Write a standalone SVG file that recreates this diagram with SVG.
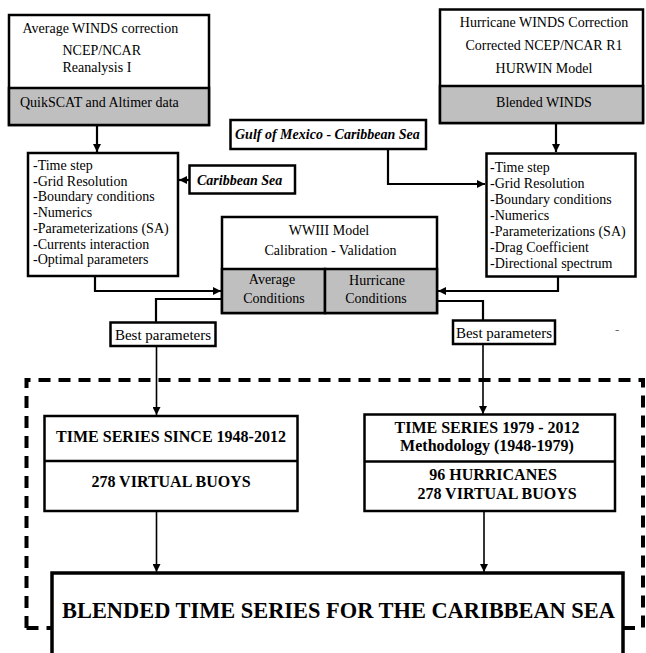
<svg xmlns="http://www.w3.org/2000/svg" width="646" height="653" viewBox="0 0 646 653">
<style>
.t{font-size:14px}
.p{font-size:14px}
.bi{font-size:14px;font-weight:bold;font-style:italic}
.b{font-size:16px;font-weight:bold}
.box{fill:#fff;stroke:#000;stroke-width:2.5}
.gray{fill:#bfbfbf;stroke:#000;stroke-width:2.5}
.c{fill:none;stroke:#000;stroke-width:2.2}
.cb{fill:none;stroke:#000;stroke-width:1.6}
</style>
<defs>
<marker id="ah" markerUnits="userSpaceOnUse" markerWidth="9" markerHeight="8" refX="8" refY="4" orient="auto">
<path d="M0,0 L8,4 L0,8 z" fill="#000"/>
</marker>
</defs>
<rect x="0" y="0" width="646" height="653" fill="#fff"/>
<g font-family="Liberation Serif, Times New Roman, DejaVu Serif, serif" fill="#000">

<g id="dashed-region">
<path d="M26.5,628 L26.5,380 L643,380 L643,628" fill="none" stroke="#000" stroke-width="4" stroke-dasharray="12 8"/>
<path d="M26.5,628 L52,628 M623,628 L643,628" fill="none" stroke="#000" stroke-width="4" stroke-dasharray="12 8"/>
</g>

<g id="connectors">
<path class="c" d="M97,125 L97,152" marker-end="url(#ah)"/>
<path class="c" d="M556,123 L556,152" marker-end="url(#ah)"/>
<path class="c" d="M189,180 L179,180" marker-end="url(#ah)"/>
<path class="c" d="M388,149 L388,184 L485,184" marker-end="url(#ah)"/>
<path class="c" d="M95,276 L95,291 L221,291" marker-end="url(#ah)"/>
<path class="c" d="M558,276 L558,291 L438,291" marker-end="url(#ah)"/>
<path class="c" d="M222,299 L156,299 L156,322"/>
<path class="c" d="M437,301 L483,301 L483,320"/>
<path class="cb" d="M156.5,346 L156.5,415" marker-end="url(#ah)"/>
<path class="cb" d="M483,344 L483,414" marker-end="url(#ah)"/>
<path class="cb" d="M156.5,511 L156.5,572" marker-end="url(#ah)"/>
<path class="cb" d="M484,511 L484,572" marker-end="url(#ah)"/>
</g>

<g id="avg-winds">
<rect class="box" x="9" y="15" width="200" height="110"/>
<rect class="gray" x="9" y="88" width="200" height="37"/>
<text class="t" x="22.5" y="33">Average WINDS correction</text>
<text class="t" x="62.5" y="55">NCEP/NCAR</text>
<text class="t" x="62.5" y="72">Reanalysis I</text>
<text class="t" x="20" y="107">QuikSCAT and Altimer data</text>
</g>

<g id="hurricane-winds">
<rect class="box" x="440" y="9.5" width="203" height="113.5"/>
<rect class="gray" x="440" y="86" width="203" height="37"/>
<text class="t" x="544" y="27" text-anchor="middle">Hurricane WINDS Correction</text>
<text class="t" x="544" y="50" text-anchor="middle">Corrected NCEP/NCAR R1</text>
<text class="t" x="544" y="73" text-anchor="middle">HURWIN Model</text>
<text class="t" x="544" y="107" text-anchor="middle">Blended WINDS</text>
</g>

<g id="gulf">
<rect class="box" x="230.5" y="120" width="195.5" height="29"/>
<text class="bi" x="235" y="139">Gulf of Mexico - Caribbean Sea</text>
</g>

<g id="caribbean">
<rect class="box" x="189.5" y="165.5" width="105.5" height="28"/>
<text class="bi" x="197" y="184.5">Caribbean Sea</text>
</g>

<g id="avg-params">
<rect class="box" x="28" y="153" width="150" height="123"/>
<text class="p" x="33" y="170">-Time step</text>
<text class="p" x="33" y="185.7">-Grid Resolution</text>
<text class="p" x="33" y="201.4">-Boundary conditions</text>
<text class="p" x="33" y="217.1">-Numerics</text>
<text class="p" x="33" y="232.8">-Parameterizations (SA)</text>
<text class="p" x="33" y="248.5">-Currents interaction</text>
<text class="p" x="33" y="264.2">-Optimal parameters</text>
</g>

<g id="hur-params">
<rect class="box" x="486.5" y="153.5" width="149" height="123"/>
<text class="p" x="490" y="171.5">-Time step</text>
<text class="p" x="490" y="187.5">-Grid Resolution</text>
<text class="p" x="490" y="203.5">-Boundary conditions</text>
<text class="p" x="490" y="219.5">-Numerics</text>
<text class="p" x="490" y="235.5">-Parameterizations (SA)</text>
<text class="p" x="490" y="251.5">-Drag Coefficient</text>
<text class="p" x="490" y="267.5">-Directional spectrum</text>
</g>

<g id="wwiii">
<rect class="box" x="222" y="217" width="215" height="96"/>
<rect class="gray" x="222" y="269" width="103" height="44"/>
<rect class="gray" x="325" y="269" width="112" height="44"/>
<text class="t" x="329" y="235" text-anchor="middle">WWIII Model</text>
<text class="t" x="330.5" y="255" text-anchor="middle">Calibration - Validation</text>
<text class="t" x="272" y="284" text-anchor="middle">Average</text>
<text class="t" x="274" y="303" text-anchor="middle">Conditions</text>
<text class="t" x="377" y="285" text-anchor="middle">Hurricane</text>
<text class="t" x="376" y="303" text-anchor="middle">Conditions</text>
</g>

<g id="best-avg">
<rect class="box" x="110.5" y="322.5" width="105" height="23.5"/>
<text x="163" y="339.5" font-size="15" text-anchor="middle">Best parameters</text>
</g>

<g id="best-hur">
<rect class="box" x="453" y="320.5" width="102" height="23.5"/>
<text x="504" y="337.5" font-size="15" text-anchor="middle">Best parameters</text>
</g>

<text x="615" y="334" font-size="13" fill="#666">-</text>

<g id="ts-avg">
<rect class="box" x="44.5" y="416" width="253" height="95"/>
<line x1="44.5" y1="461" x2="297.5" y2="461" stroke="#000" stroke-width="2.5"/>
<text class="b" x="171" y="442" text-anchor="middle">TIME SERIES SINCE 1948-2012</text>
<text class="b" x="171" y="487" text-anchor="middle">278 VIRTUAL BUOYS</text>
</g>

<g id="ts-hur">
<rect class="box" x="364.5" y="414.5" width="250.5" height="96.5"/>
<line x1="364.5" y1="461.5" x2="615" y2="461.5" stroke="#000" stroke-width="2.5"/>
<text class="b" x="487" y="433" text-anchor="middle">TIME SERIES 1979 - 2012</text>
<text class="b" x="487" y="451" text-anchor="middle">Methodology (1948-1979)</text>
<text class="b" x="493" y="480" text-anchor="middle">96 HURRICANES</text>
<text class="b" x="497" y="499" text-anchor="middle">278 VIRTUAL BUOYS</text>
</g>

<g id="blended">
<rect x="52" y="573" width="571" height="100" fill="#fff" stroke="#000" stroke-width="3.5"/>
<text x="338.5" y="618" font-size="22.4" font-weight="bold" text-anchor="middle">BLENDED TIME SERIES FOR THE CARIBBEAN SEA</text>
</g>
</g>
</svg>
